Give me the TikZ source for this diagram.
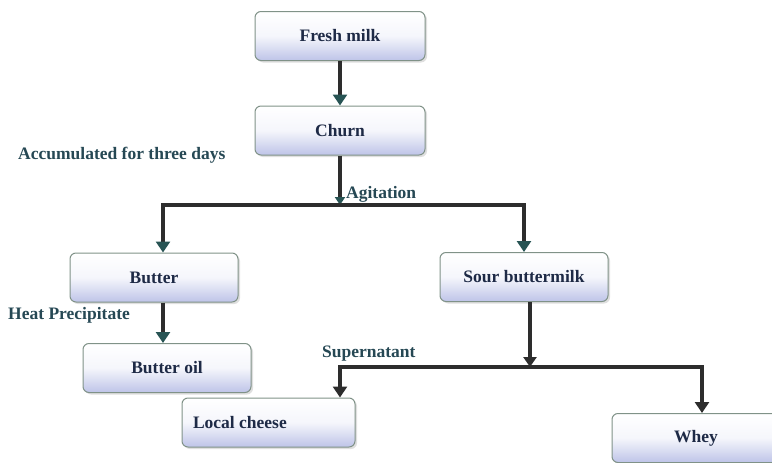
\documentclass[tikz,border=0pt]{standalone}
\usepackage{fontspec}
\setmainfont{Liberation Serif}
\usetikzlibrary{arrows.meta,shadows}

\definecolor{BoxBlue}{RGB}{190,196,232}
\definecolor{BoxLine}{RGB}{128,146,136}
\definecolor{BoxText}{RGB}{30,42,70}
\definecolor{LabelText}{RGB}{38,72,84}
\definecolor{FlowLine}{RGB}{45,45,45}
\definecolor{TipTeal}{RGB}{40,84,84}

\tikzset{
  stage/.style={draw=BoxLine, line width=1pt, rounded corners=6pt,
    top color=white, bottom color=BoxBlue, middle color=white!85!BoxBlue,
    drop shadow={shadow xshift=2pt, shadow yshift=-2pt, opacity=0.25},
    minimum width=170pt, minimum height=49pt, inner sep=0pt,
    font=\fontsize{17.5}{20}\selectfont\bfseries, text=BoxText},
  remark/.style={font=\fontsize{17.5}{20}\selectfont\bfseries, text=LabelText, inner sep=0pt},
  flow/.style={draw=FlowLine, line width=3.5pt,
    -{Triangle[length=11pt, width=14pt, fill=TipTeal, color=TipTeal]}},
  plain/.style={draw=FlowLine, line width=3.5pt}
}

\begin{document}
\begin{tikzpicture}[x=1pt, y=-1pt]
  \useasboundingbox (0,0) rectangle (772,463);
  \clip (0,0) rectangle (772,463);

  % stages
  \node[stage] (fresh) at (340,36) {Fresh milk};
  \node[stage] (churn) at (340,130.5) {Churn};
  \node[stage, minimum width=168pt] (butter) at (154,277.5) {Butter};
  \node[stage, minimum width=168pt] (sour) at (524,277) {Sour buttermilk};
  \node[stage, minimum width=168pt] (oil) at (167,368) {Butter oil};
  \node[stage, minimum width=173pt, text width=151pt, align=flush left] (cheese) at (268.5,422.5) {Local cheese};
  \node[stage, minimum width=168pt] (whey) at (696,438) {Whey};

  % remarks
  \node[remark, anchor=west] (accum) at (18,155) {Accumulated for three days};
  \node[remark, anchor=west] (agit) at (346,194) {Agitation};
  \node[remark, anchor=west] (heat) at (8,315) {Heat Precipitate};
  \node[remark, anchor=west] (super) at (322,354) {Supernatant};

  % branch points
  \coordinate (split1) at (340,205);
  \coordinate (split2) at (530,367);

  % connectors
  \draw[flow] (fresh) -- (churn);
  \draw[flow, -{Triangle[length=8pt, width=10pt, fill=TipTeal, color=TipTeal]}] (churn) -- (split1);
  \draw[plain] ([xshift=-1.75pt]split1 -| butter.north) ++(9pt,0) -- ([xshift=1.75pt]split1 -| sour.north);
  \draw[flow] ([xshift=9pt]split1 -| butter.north) -- ([xshift=9pt]butter.north);
  \draw[flow] (split1 -| sour.north) -- (sour.north);
  \draw[flow] ([xshift=9pt]butter.south) -- ([xshift=9pt]butter.south |- oil.north);
  \draw[flow, -{Triangle[length=10pt, width=13pt, fill=FlowLine, color=FlowLine]}] (sour.south -| split2) -- (split2);
  \draw[plain] ([xshift=-1.75pt]split2 -| cheese.north) ++(71.5pt,0) -- ([xshift=7.75pt]split2 -| whey.north);
  \draw[flow, -{Triangle[length=11pt, width=14pt, fill=FlowLine, color=FlowLine]}] ([xshift=71.5pt]split2 -| cheese.north) -- ([xshift=71.5pt]cheese.north);
  \draw[flow, -{Triangle[length=11pt, width=14pt, fill=FlowLine, color=FlowLine]}] ([xshift=6pt]split2 -| whey.north) -- ([xshift=6pt]whey.north);
\end{tikzpicture}
\end{document}
